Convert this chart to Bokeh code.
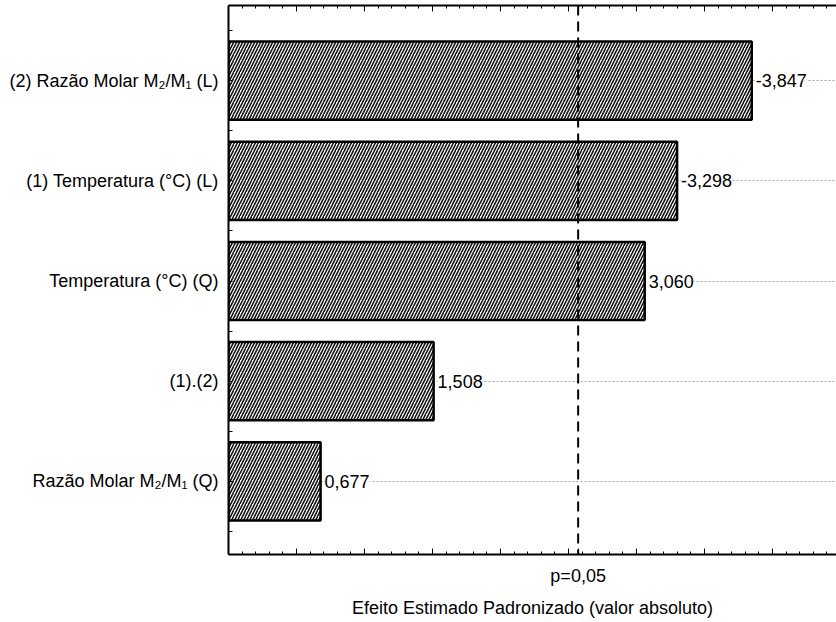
from bokeh.plotting import figure
from bokeh.models import (FixedTicker, LinearAxis, Range1d, Span, LabelSet,
                          ColumnDataSource, Grid)
from bokeh.core.properties import value
from bokeh.embed import file_html
from bokeh.resources import INLINE

# ---- data (top to bottom) ----
factors = ["(2) Razão Molar M\u2082/M\u2081 (L)",
           "(1) Temperatura (°C) (L)",
           "Temperatura (°C) (Q)",
           "(1).(2)",
           "Razão Molar M\u2082/M\u2081 (Q)"]
effects = [-3.847, -3.298, 3.060, 1.508, 0.677]
p_crit = 2.5706
p_label = "p=0,05"
x_title = "Efeito Estimado Padronizado (valor absoluto)"
x_major = [0.0, 0.5, 1.0, 1.5, 2.0, 2.5, 3.0, 3.5, 4.0, 4.5]
x_minor = [round(i * 0.1, 1) for i in range(0, 46)]

FONT = "Liberation Sans"
FS = "18px"

n = len(factors)
ypos = [float(n - i) for i in range(n)]
absvals = [abs(v) for v in effects]
labels = [f"{v:.3f}".replace(".", ",") for v in effects]
src = ColumnDataSource(dict(y=ypos, val=absvals, lab=labels))

p = figure(width=836, height=620, x_range=Range1d(0, 4.47),
           y_range=Range1d(0.27, 5.75), output_backend="svg",
           toolbar_location=None, min_border_left=228, min_border_right=0,
           min_border_top=5, min_border_bottom=0,
           x_axis_location=None, y_axis_location=None)
p.outline_line_color = None
p.background_fill_color = "white"
p.border_fill_color = "white"
for g in list(p.grid):
    g.visible = False

# grid at categories (dotted)
grid = Grid(dimension=1, ticker=FixedTicker(ticks=ypos),
            grid_line_color="#a0a0a0", grid_line_dash="2 2", grid_line_width=1)
p.add_layout(grid)

p.hbar(y="y", left=0, right="val", height=0.78, source=src,
       fill_color="white", line_color="black", line_width=2.5,
       hatch_pattern="/", hatch_color="#111111", hatch_scale=6,
       hatch_weight=1.6)

p.add_layout(LabelSet(x="val", y="y", text="lab", source=src, x_offset=4,
                      text_baseline="middle", text_font=value(FONT),
                      text_font_size=value(FS), text_color="black",
                      background_fill_color="white"))

p.add_layout(Span(location=p_crit, dimension="height", line_color="black",
                  line_width=2, line_dash="10 6"))

# left axis
left = LinearAxis(ticker=FixedTicker(ticks=ypos,
                                     minor_ticks=[y + 0.5 for y in ypos] + [0.5]),
                  major_label_overrides={y: f for y, f in zip(ypos, factors)})
left.axis_line_width = 2
left.major_tick_in = 4
left.major_tick_out = 0
left.minor_tick_in = 4
left.minor_tick_out = 0
left.major_label_standoff = 10
left.major_label_text_font = FONT
left.major_label_text_font_size = FS
left.major_label_text_color = "black"
p.add_layout(left, "left")

# bottom axis
ov = {t: "" for t in x_major}
ov[p_crit] = p_label
bottom = LinearAxis(ticker=FixedTicker(ticks=x_major + [p_crit], minor_ticks=x_minor),
                    major_label_overrides=ov, axis_label=x_title)
bottom.axis_line_width = 2
bottom.major_tick_in = 6
bottom.major_tick_out = 0
bottom.minor_tick_in = 3
bottom.minor_tick_out = 0
bottom.major_label_standoff = 11
bottom.major_label_text_font = FONT
bottom.major_label_text_font_size = FS
bottom.major_label_text_color = "black"
bottom.axis_label_text_font = FONT
bottom.axis_label_text_font_size = FS
bottom.axis_label_text_font_style = "normal"
bottom.axis_label_text_color = "black"
bottom.axis_label_standoff = 9
p.add_layout(bottom, "below")

# top axis (ticks only)
top = LinearAxis(ticker=FixedTicker(ticks=x_major, minor_ticks=x_minor),
                 major_label_overrides={t: "" for t in x_major})
top.axis_line_width = 2
top.major_tick_in = 6
top.major_tick_out = 0
top.minor_tick_in = 3
top.minor_tick_out = 0
top.major_label_standoff = 0
top.major_label_text_font_size = "1px"
p.add_layout(top, "above")

open("out.html", "w").write(file_html(p, INLINE))
